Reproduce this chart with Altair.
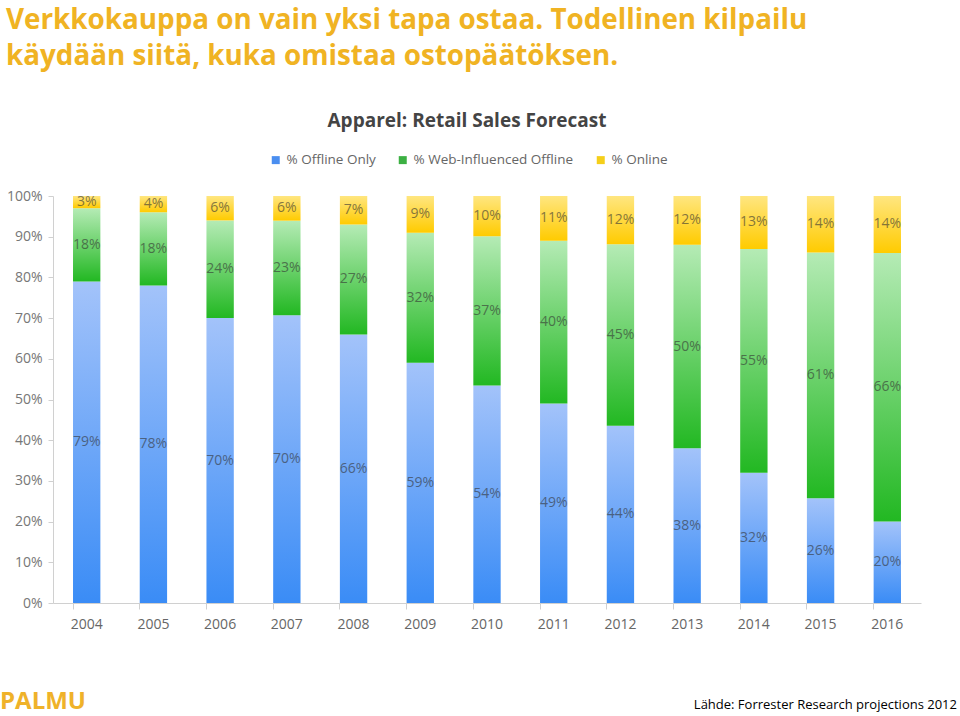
import altair as alt
import pandas as pd

years = ["2004", "2005", "2006", "2007", "2008", "2009", "2010", "2011", "2012", "2013", "2014", "2015", "2016"]
offline_only = [79, 78, 70, 70, 66, 59, 54, 49, 44, 38, 32, 26, 20]
web_influenced = [18, 18, 24, 23, 27, 32, 37, 40, 45, 50, 55, 61, 66]
online = [3, 4, 6, 6, 7, 9, 10, 11, 12, 12, 13, 14, 14]
series_names = ["% Offline Only", "% Web-Influenced Offline", "% Online"]
legend_colors = ["#4a8ef0", "#3cb043", "#f5cf1a"]
gradients = [("#a3c3fa", "#3a8cf6"), ("#b5ebb5", "#22b822"), ("#ffe680", "#ffcb00")]

rows = []
for i, y in enumerate(years):
    for k, vals in enumerate([offline_only, web_influenced, online]):
        rows.append({"year": y, "series": series_names[k], "order": k, "value": vals[i],
                     "label": f"{vals[i]}%"})
df = pd.DataFrame(rows)

FONT = "Open Sans"
W, H = 868, 407

base = alt.Chart(df).transform_stack(
    stack="value", groupby=["year"], as_=["y0", "y1"], offset="normalize",
    sort=[alt.SortField("order", order="ascending")]
).transform_calculate(ymid="(datum.y0 + datum.y1) / 2")

xenc = alt.X("year:N", title=None, sort=years,
             scale=alt.Scale(paddingInner=0.59, paddingOuter=0.3),
             axis=alt.Axis(labelAngle=0, bandPosition=0,
                           labelFont=FONT, labelFontSize=14, labelColor="#666",
                           domainColor="#d0d0d0", tickColor="#d0d0d0", tickSize=6,
                           labelPadding=8))
yenc_axis = alt.Axis(format="%", values=[i / 10 for i in range(11)], grid=False,
                     labelFont=FONT, labelFontSize=14, labelColor="#777",
                     domainColor="#d0d0d0", tickColor="#d0d0d0", tickSize=5,
                     labelPadding=6)

layers = []
for k, name in enumerate(series_names):
    top, bottom = gradients[k]
    grad = alt.Gradient(gradient="linear", x1=0, x2=0, y1=0, y2=1,
                        stops=[alt.GradientStop(color=top, offset=0),
                               alt.GradientStop(color=bottom, offset=1)])
    layer = base.transform_filter(alt.datum.series == name).mark_bar(fill=grad).encode(
        x=xenc,
        y=alt.Y("y0:Q", title=None, scale=alt.Scale(domain=[0, 1]), axis=yenc_axis),
        y2="y1:Q",
    )
    layers.append(layer)

labels = base.mark_text(font=FONT, fontSize=14, color="#333", opacity=0.6).encode(
    x=alt.X("year:N", sort=years),
    y=alt.Y("ymid:Q"),
    text="label:N",
)

legend_layer = alt.Chart(df).mark_square(opacity=0).encode(
    x=alt.X("year:N", sort=years),
    y=alt.value(0),
    color=alt.Color("series:N", sort=series_names,
                    scale=alt.Scale(domain=series_names, range=legend_colors),
                    legend=alt.Legend(title=None, orient="none", direction="horizontal",
                                      legendX=216, legendY=-43, symbolType="square",
                                      symbolSize=64, symbolOpacity=1, symbolStrokeWidth=0,
                                      labelFont=FONT, labelFontSize=13.5, labelColor="#666",
                                      columnPadding=20, labelOffset=4, labelLimit=0)),
)

def txt(text, x, y, size, color, weight="normal", align="left", font=FONT):
    return alt.Chart(pd.DataFrame({"t": [text]})).mark_text(
        font=font, fontSize=size, color=color, fontWeight=weight, align=align, baseline="middle"
    ).encode(text="t:N", x=alt.value(x), y=alt.value(y))

annotations = [
    txt("Verkkokauppa on vain yksi tapa ostaa. Todellinen kilpailu", -47, -175, 27.8, "#F0B323", "bold"),
    txt("käydään siitä, kuka omistaa ostopäätöksen.", -47, -139, 27.8, "#F0B323", "bold"),
    txt("Apparel: Retail Sales Forecast", 414, -75, 19, "#444", "bold", "center"),
    txt("PALMU", -53, 506, 24, "#EFB22A", "bold"),
    txt("Lähde: Forrester Research projections 2012", 904, 509, 13, "#000", "normal", "right"),
]

chart = alt.layer(*layers, labels, legend_layer, *annotations).properties(
    width=W, height=H,
    autosize=alt.AutoSizeParams(type="none"),
    padding={"left": 53, "top": 196, "right": 39, "bottom": 113},
    background="white",
).configure_view(stroke=None)

chart.save("out.html", embed_options={"renderer": "svg", "actions": False})
